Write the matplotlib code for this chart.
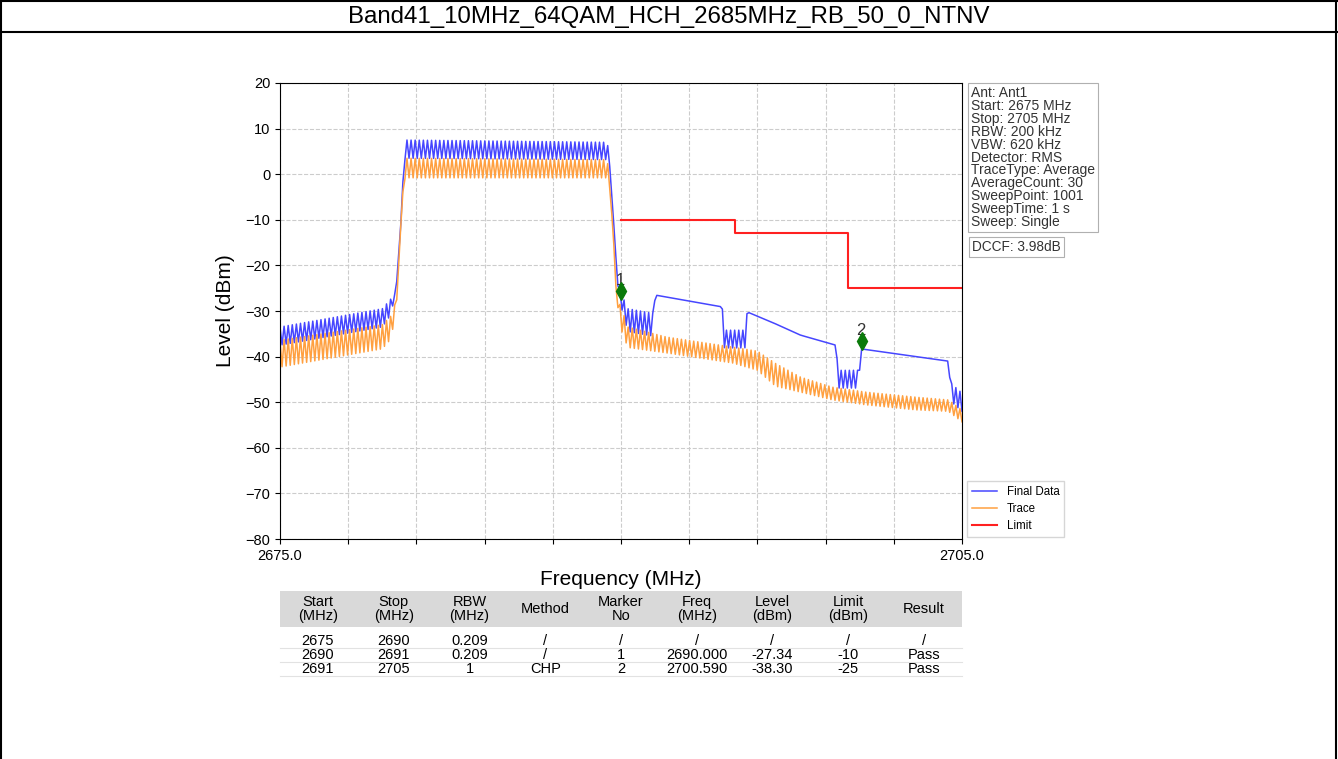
import numpy as np
import matplotlib
matplotlib.use('Agg')
import matplotlib.pyplot as plt
from matplotlib.lines import Line2D
from matplotlib.patches import Rectangle
from matplotlib.transforms import offset_copy

plt.rcParams['font.family'] = ['Liberation Sans', 'DejaVu Sans']

title = "Band41_10MHz_64QAM_HCH_2685MHz_RB_50_0_NTNV"

# Final Data: upper / lower edge of the trace read at breakpoints (MHz, dBm)
blue_f = [2675.0, 2679.5, 2679.85, 2680.1, 2680.3, 2680.5, 2689.4, 2689.5, 2689.65, 2689.85,
          2690.0, 2690.3, 2691.4, 2691.5, 2694.45, 2694.55, 2695.45, 2695.55, 2696.7, 2697.9,
          2699.1, 2699.45, 2699.55, 2700.45, 2700.55, 2704.4, 2704.55, 2705.0]
blue_hi = [-33.5, -29.5, -27.5, -26, -12, 7.5, 7.0, 2, -8.5, -24,
           -26, -29.5, -30.5, -26.5, -29.1, -34.2, -34.2, -30.2, -32.6, -35.3,
           -37.0, -37.5, -43, -43, -38.3, -41, -46, -48]
blue_lo = [-37.5, -33.5, -31, -26, -12, 3.5, 3.2, 2, -8.5, -24,
           -29, -34.5, -35.5, -26.5, -29.1, -38.1, -38.1, -30.2, -32.6, -35.3,
           -37.0, -37.5, -46.9, -46.9, -38.3, -41, -50, -52]

# Trace
orange_f = [2675.0, 2679.5, 2679.9, 2680.15, 2680.3, 2680.5, 2689.4, 2689.5, 2689.65, 2689.8,
            2690.0, 2690.3, 2692.0, 2694.9, 2696.0, 2696.8, 2697.9, 2699.3, 2700.8, 2703.0,
            2704.4, 2705.0]
orange_hi = [-36.4, -33.0, -31.0, -27, -12, 3.5, 3.2, -3, -12, -27,
             -29, -33.5, -35.7, -37.9, -38.8, -41.5, -44.5, -46.7, -47.8, -48.9,
             -49.5, -51.7]
orange_lo = [-42.3, -38.3, -36.0, -27, -12, -0.8, -0.8, -3, -12, -27,
             -34, -38, -39.2, -41.4, -43.0, -46.5, -47.8, -49.5, -50.6, -51.7,
             -52, -54.3]

# Limit line
limit_start = [2690, 2695, 2700]
limit_stop = [2695, 2700, 2705]
limit_value = [-10, -13, -25]

# markers
marker_no = ["1", "2"]
marker_freq = [2690.000, 2700.590]
marker_level = [-27.34, -38.30]

info_lines = ["Ant: Ant1", "Start: 2675 MHz", "Stop: 2705 MHz", "RBW: 200 kHz", "VBW: 620 kHz",
              "Detector: RMS", "TraceType: Average", "AverageCount: 30", "SweepPoint: 1001",
              "SweepTime: 1 s", "Sweep: Single"]
dccf_text = "DCCF: 3.98dB"

tbl_header = ["Start\n(MHz)", "Stop\n(MHz)", "RBW\n(MHz)", "Method", "Marker\nNo",
              "Freq\n(MHz)", "Level\n(dBm)", "Limit\n(dBm)", "Result"]
tbl_rows = [["2675", "2690", "0.209", "/", "/", "/", "/", "/", "/"],
            ["2690", "2691", "0.209", "/", "1", "2690.000", "-27.34", "-10", "Pass"],
            ["2691", "2705", "1", "CHP", "2", "2700.590", "-38.30", "-25", "Pass"]]

W, H = 1338, 759
def fx(x):
    return x / W
def fy(y):
    return 1 - y / H

fig = plt.figure(figsize=(W / 100, H / 100), dpi=100)

# outer frame + title row
for (x0, y0, x1, y1) in [(1, 0, 1, H), (1336, 0, 1336, H), (0, 1, W, 1), (0, 32, W, 32)]:
    fig.add_artist(Line2D([fx(x0), fx(x1)], [fy(y0), fy(y1)], color='black', lw=1.5))
fig.text(0.5, fy(17), title, ha='center', va='center', fontsize=17.3)

ax = fig.add_axes([fx(280), fy(539), fx(962) - fx(280), fy(83) - fy(539)])

# zigzag between upper/lower edges, like the raw sweep
freqs = np.linspace(2675, 2705, 334)
def sweep(f, hi, lo):
    h = np.interp(freqs, f, hi)
    l = np.interp(freqs, f, lo)
    return np.where(np.arange(len(freqs)) % 2 == 0, h, l)

ax.plot(freqs, sweep(blue_f, blue_hi, blue_lo), color='#4646ff', lw=1.1, label='Final Data')
ax.plot(freqs, sweep(orange_f, orange_hi, orange_lo), color='#ffa040', lw=1.1, label='Trace')

lim_x, lim_y = [], []
for s, e, v in zip(limit_start, limit_stop, limit_value):
    lim_x += [s, e]
    lim_y += [v, v]
ax.plot(lim_x, lim_y, color='#ff2020', lw=1.5, label='Limit')

tr = offset_copy(ax.transData, fig=fig, x=0, y=5.8, units='points')
ax.plot(marker_freq, marker_level, 'd', color='#0a7a0a', ms=9, transform=tr, zorder=5)
for n, f, l in zip(marker_no, marker_freq, marker_level):
    ax.annotate(n, (f, l), xytext=(-0.5, 13.5), textcoords='offset points', ha='center', va='center',
                fontsize=12, color='#333333')

ax.set_xlim(2675, 2705)
ax.set_ylim(-80, 20)
xt = np.arange(2675, 2705.1, 3)
ax.set_xticks(xt)
ax.set_xticklabels(["2675.0"] + [""] * (len(xt) - 2) + ["2705.0"])
ax.set_yticks(np.arange(-80, 21, 10))
ax.tick_params(labelsize=10.5)
ax.grid(True, color='#cccccc', ls='--', lw=0.8)
ax.set_xlabel("Frequency (MHz)", fontsize=15)
ax.set_ylabel("Level (dBm)", fontsize=15)
ax.xaxis.set_label_coords(0.5, -0.068)
ax.yaxis.set_label_coords(-0.066, 0.5)

ax.legend(loc='lower left', bbox_to_anchor=(1.008, 0.005), borderaxespad=0, fontsize=8.3,
          fancybox=False, edgecolor='#cccccc', handlelength=2.2, labelspacing=0.45)

fig.text(fx(971), fy(86), "\n".join(info_lines), ha='left', va='top', fontsize=10, linespacing=0.9,
         color='#333333', bbox=dict(boxstyle='square,pad=0.25', fc='white', ec='#b0b0b0', lw=0.8))
fig.text(fx(972), fy(247), dccf_text, ha='left', va='center', fontsize=9.8, color='#333333',
         bbox=dict(boxstyle='square,pad=0.25', fc='white', ec='#b0b0b0', lw=0.8))

# result table under the plot
fig.add_artist(Rectangle((fx(280), fy(627)), fx(962) - fx(280), fy(591) - fy(627),
                         transform=fig.transFigure, color='#d9d9d9', lw=0))
col_w = (962 - 280) / len(tbl_header)
for i, h in enumerate(tbl_header):
    fig.text(fx(280 + (i + 0.5) * col_w), fy(609), h, ha='center', va='center', fontsize=10.5,
             linespacing=1.05)
for r, row in enumerate(tbl_rows):
    yc = 641 + r * 14
    for i, v in enumerate(row):
        fig.text(fx(280 + (i + 0.5) * col_w), fy(yc), v, ha='center', va='center', fontsize=10.5)
    fig.add_artist(Line2D([fx(280), fx(962)], [fy(yc + 7), fy(yc + 7)], color='#e2e2e2', lw=0.8))

fig.savefig('out.png', dpi=100)
